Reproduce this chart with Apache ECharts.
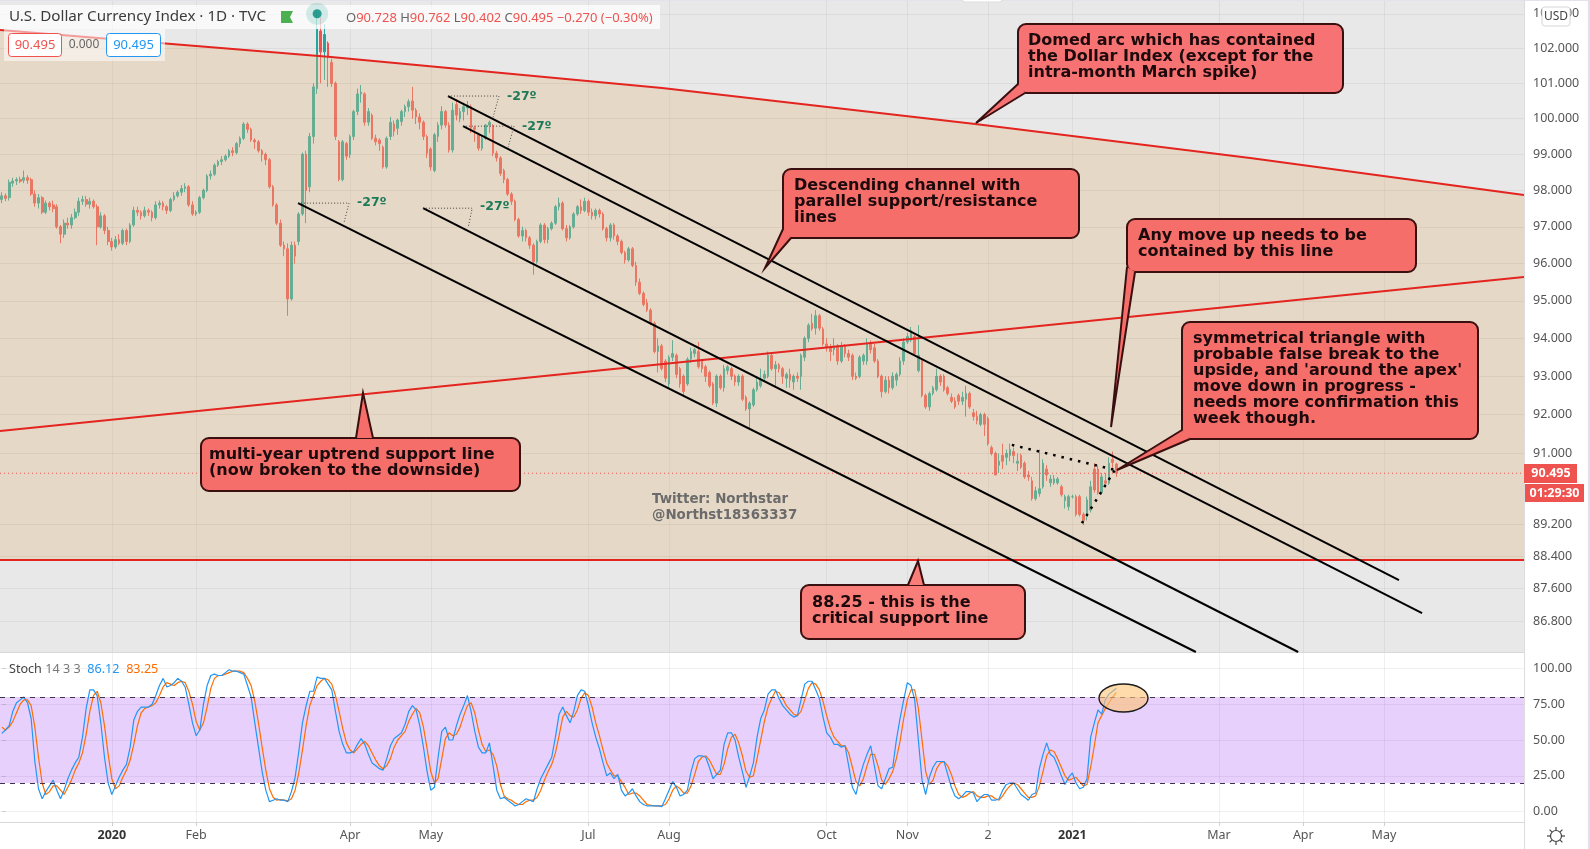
<!DOCTYPE html>
<html>
<head>
<meta charset="utf-8">
<title>U.S. Dollar Currency Index</title>
<script src="https://cdn.jsdelivr.net/npm/echarts@6/dist/echarts.min.js"></script>
<style>
  html, body { margin: 0; padding: 0; background: #fff; }
  #chart { width: 1590px; height: 849px; }
</style>
</head>
<body>
<div id="chart"></div>
<script>
// Daily candles. One bar per trading day from late Nov 2019.
const opens = [
  97.75,97.85,97.80,98.20,98.26,98.30,98.28,98.35,98.30,97.90,
  97.65,97.80,97.40,97.65,97.60,97.55,97.00,96.80,97.10,97.05,
  97.25,97.40,97.70,97.75,97.62,97.70,97.55,97.00,97.30,96.90,
  96.60,96.45,96.65,96.55,96.90,96.60,97.05,97.45,97.40,97.30,
  97.45,97.40,97.25,97.60,97.65,97.55,97.45,97.75,97.85,97.95,
  98.05,98.10,97.60,97.35,97.40,97.80,98.00,98.40,98.45,98.70,
  98.80,98.85,98.95,99.10,99.05,99.30,99.45,99.85,99.70,99.40,
  99.35,99.10,99.00,98.85,98.10,97.60,97.10,96.50,96.40,95.05,
  96.50,96.60,97.35,99.00,98.10,99.50,100.85,102.50,101.90,102.15,
  101.60,101.00,99.35,98.30,99.30,99.00,99.50,100.20,100.70,100.70,
  99.90,100.10,99.45,99.40,99.20,98.65,99.50,99.85,99.73,99.92,
  100.20,100.34,100.50,100.24,100.05,99.90,99.50,99.15,98.55,99.50,
  99.82,100.20,99.82,99.12,100.40,100.00,100.20,100.30,100.34,99.75,
  99.55,99.17,99.45,99.82,99.80,99.03,98.90,98.55,98.30,97.90,
  97.70,97.20,96.75,96.90,96.70,96.50,96.05,96.60,97.05,96.65,
  96.95,97.10,97.55,97.65,96.95,96.70,97.00,97.35,97.55,97.45,
  97.70,97.40,97.30,97.45,97.35,96.95,96.70,97.05,96.75,96.60,
  96.30,96.10,96.40,95.95,95.50,95.20,94.95,94.75,94.40,93.65,
  93.80,93.40,92.80,93.50,93.55,93.20,93.00,92.80,93.45,93.60,
  93.65,93.40,93.25,93.10,92.80,92.30,93.00,92.70,93.15,93.20,
  93.00,92.85,93.00,92.45,92.15,92.25,92.65,92.75,92.95,93.00,
  93.55,93.20,93.30,93.20,92.95,93.05,92.85,93.00,93.00,93.50,
  94.00,94.40,94.27,94.60,94.25,93.85,93.75,93.70,93.80,93.40,
  93.80,93.60,93.55,93.00,93.00,93.40,93.40,93.85,93.75,93.40,
  93.00,92.60,92.90,92.70,92.90,93.05,93.40,93.90,93.95,94.05,
  93.15,93.40,92.50,92.20,92.55,92.65,93.00,93.00,92.70,92.45,
  92.35,92.50,92.35,92.40,92.55,92.05,91.95,91.75,92.00,91.90,
  91.15,91.00,90.70,90.95,90.90,90.95,91.05,90.75,90.95,90.75,
  90.45,90.30,89.85,89.98,90.15,90.60,90.25,90.25,90.25,90.15,
  89.80,89.65,89.90,89.90,89.90,89.45,89.40,89.56,90.60,90.60,
  90.00,90.30,90.24,90.85,90.728
];
const closes = [
  97.85,97.78,98.22,98.26,98.30,98.25,98.35,98.28,97.90,97.65,
  97.80,97.40,97.65,97.55,97.50,97.00,96.80,97.10,97.05,97.25,
  97.40,97.70,97.75,97.62,97.70,97.55,97.00,97.30,96.90,96.60,
  96.45,96.65,96.55,96.90,96.60,97.05,97.45,97.40,97.30,97.45,
  97.40,97.25,97.60,97.65,97.55,97.45,97.75,97.85,97.95,98.05,
  98.10,97.60,97.35,97.40,97.80,98.00,98.40,98.45,98.70,98.80,
  98.85,98.95,99.10,99.05,99.30,99.45,99.85,99.70,99.40,99.35,
  99.10,99.00,98.85,98.10,97.60,97.10,96.50,96.40,95.05,96.50,
  96.20,97.35,99.00,98.00,99.50,100.90,102.55,101.90,102.40,101.75,
  101.00,99.50,98.30,99.35,98.95,99.50,100.20,100.70,100.75,99.90,
  100.20,99.45,99.35,99.30,98.65,99.45,99.90,99.65,99.96,100.20,
  100.34,100.48,100.24,100.05,99.90,99.50,99.03,98.65,99.55,99.82,
  100.20,99.82,99.12,100.24,100.10,100.20,100.34,100.38,99.73,99.70,
  99.17,99.45,99.82,99.90,99.03,98.90,98.47,98.30,97.90,97.70,
  97.20,96.75,96.90,96.70,96.50,96.05,96.60,97.05,96.65,96.95,
  97.10,97.55,97.65,96.95,96.70,97.00,97.35,97.55,97.45,97.70,
  97.40,97.30,97.45,97.35,96.95,96.70,97.05,96.75,96.60,96.30,
  96.10,96.40,95.95,95.50,95.20,94.90,94.75,94.40,93.65,93.80,
  93.20,92.95,93.50,93.60,93.05,92.80,92.60,93.45,93.65,93.70,
  93.25,93.20,93.00,92.75,92.30,93.00,92.70,93.20,93.25,93.00,
  92.85,93.00,92.40,92.15,92.30,92.65,92.85,92.90,93.05,93.55,
  93.20,93.30,93.20,93.00,93.05,92.90,93.00,92.95,93.55,94.00,
  94.35,94.25,94.60,94.27,93.85,93.75,93.65,93.80,93.40,93.80,
  93.60,93.50,93.00,92.95,93.50,93.55,93.85,93.70,93.40,93.00,
  92.60,92.90,92.70,93.00,93.05,93.40,93.90,94.05,94.20,93.60,
  93.55,92.50,92.20,92.55,92.70,93.00,92.85,92.65,92.55,92.35,
  92.20,92.35,92.45,92.55,92.20,91.95,91.85,92.00,91.75,91.25,
  91.00,90.45,90.80,90.80,91.00,91.10,90.95,90.80,90.65,90.40,
  90.40,89.85,90.05,90.10,90.75,90.45,90.35,90.35,90.35,89.95,
  89.90,89.90,89.90,89.45,89.45,89.30,89.82,90.15,90.07,90.00,
  90.40,90.24,90.75,90.77,90.495
];
const lows = [
  97.65,97.70,97.72,98.10,98.15,98.20,98.20,98.18,97.85,97.55,
  97.50,97.35,97.35,97.45,97.40,96.95,96.55,96.70,96.95,96.95,
  97.20,97.30,97.60,97.55,97.50,97.50,96.50,96.95,96.80,96.50,
  96.35,96.40,96.50,96.50,96.50,96.55,97.00,97.30,97.20,97.25,
  97.30,97.15,97.20,97.50,97.45,97.35,97.40,97.70,97.80,97.85,
  97.95,97.55,97.30,97.30,97.35,97.75,97.95,98.30,98.40,98.65,
  98.70,98.80,98.90,98.95,99.00,99.20,99.40,99.60,99.35,99.15,
  99.05,98.80,98.70,98.05,97.55,97.05,96.45,96.20,94.60,95.00,
  96.00,96.50,97.30,97.10,97.95,99.30,100.70,101.00,101.10,100.90,
  100.90,99.40,98.25,98.25,98.85,98.90,99.40,100.10,100.45,99.80,
  99.80,99.40,99.25,99.10,98.60,98.60,99.40,99.50,99.55,99.80,
  100.05,100.20,100.00,99.85,99.70,99.40,98.90,98.55,98.50,99.35,
  99.70,99.75,99.05,99.05,99.95,99.90,99.95,100.10,99.60,99.35,
  99.10,99.10,99.40,99.60,98.95,98.80,98.40,98.20,97.85,97.60,
  97.15,96.70,96.60,96.60,96.40,95.70,96.00,96.55,96.55,96.55,
  96.90,97.05,97.45,96.90,96.60,96.65,96.95,97.30,97.35,97.40,
  97.30,97.20,97.20,97.25,96.90,96.60,96.60,96.65,96.50,96.25,
  96.00,96.05,95.90,95.40,95.15,94.85,94.70,94.35,93.60,93.10,
  93.15,92.85,92.70,93.40,92.95,92.70,92.50,92.75,93.35,93.50,
  93.20,93.10,92.85,92.70,92.25,92.20,92.65,92.60,93.05,92.90,
  92.75,92.75,92.35,92.10,91.65,92.20,92.60,92.70,92.85,92.95,
  93.15,92.75,93.10,92.80,92.70,92.70,92.65,92.85,92.65,93.40,
  93.90,94.20,94.10,94.20,93.80,93.65,93.40,93.55,93.30,93.35,
  93.50,93.40,92.90,92.90,92.95,93.30,93.30,93.60,93.35,92.95,
  92.45,92.55,92.55,92.65,92.75,93.00,93.30,93.85,93.90,93.55,
  93.10,92.45,92.15,92.10,92.50,92.60,92.75,92.60,92.50,92.30,
  92.15,92.25,92.25,91.95,92.15,91.85,91.75,91.70,91.45,91.20,
  90.95,90.45,90.50,90.60,90.70,90.80,90.75,90.55,90.60,90.35,
  90.30,89.80,89.80,89.90,90.10,90.30,90.15,90.20,90.20,89.90,
  89.60,89.55,89.85,89.40,89.40,89.18,89.30,89.50,90.00,89.95,
  89.95,90.15,90.20,90.60,90.402
];
const highs = [
  97.95,97.92,98.30,98.35,98.36,98.38,98.55,98.42,98.35,98.00,
  97.90,97.85,97.72,97.70,97.72,97.62,97.05,97.20,97.25,97.35,
  97.50,97.80,97.85,97.85,97.80,97.75,97.62,97.40,97.35,97.00,
  96.70,96.75,96.80,96.95,96.95,97.10,97.55,97.55,97.45,97.55,
  97.50,97.45,97.70,97.72,97.70,97.60,97.80,97.95,98.00,98.15,
  98.20,98.15,97.70,97.45,97.85,98.05,98.45,98.55,98.75,98.85,
  98.95,99.00,99.15,99.20,99.35,99.50,99.90,99.90,99.75,99.45,
  99.40,99.15,99.05,98.90,98.15,97.65,97.20,96.60,96.55,96.60,
  96.60,97.40,99.05,99.10,99.60,101.00,103.10,102.90,102.70,102.20,
  101.70,101.05,99.40,99.40,99.35,99.55,100.25,100.85,100.95,100.75,
  100.30,100.15,99.55,99.45,99.25,99.50,100.05,99.95,100.00,100.25,
  100.40,100.55,100.90,100.30,100.15,99.95,99.55,99.20,99.60,99.90,
  100.35,100.25,99.90,100.45,100.55,100.30,100.45,100.50,100.40,99.80,
  99.60,99.50,99.85,99.95,99.85,99.10,98.95,98.60,98.35,97.95,
  97.75,97.25,97.00,96.95,96.75,96.55,96.65,97.10,97.10,97.00,
  97.15,97.60,97.80,97.70,97.05,97.05,97.40,97.60,97.75,97.80,
  97.75,97.50,97.50,97.50,97.40,97.00,97.10,97.10,96.80,96.65,
  96.35,96.45,96.45,96.05,95.60,95.25,95.05,94.80,94.45,94.00,
  93.85,93.45,93.55,93.95,93.60,93.25,93.05,93.50,93.75,93.75,
  93.90,93.45,93.30,93.15,92.85,93.05,93.05,93.30,93.30,93.25,
  93.05,93.05,93.05,92.50,92.35,92.70,92.95,93.20,93.15,93.65,
  93.60,93.40,93.35,93.25,93.10,93.20,93.05,93.10,93.60,94.05,
  94.40,94.65,94.75,94.65,94.30,94.00,93.85,94.00,93.85,93.90,
  93.85,93.70,93.60,93.10,93.55,93.60,94.00,93.95,93.85,93.45,
  93.05,93.00,93.00,93.10,93.10,93.50,94.00,94.15,94.30,94.10,
  94.35,93.45,92.55,92.60,92.75,93.20,93.05,93.05,92.75,92.55,
  92.45,92.55,92.60,92.75,92.60,92.15,92.10,92.05,92.05,91.95,
  91.20,91.05,91.00,91.25,91.10,91.25,91.15,91.00,91.00,90.80,
  90.55,90.40,90.15,91.10,90.85,90.70,90.45,90.45,90.40,90.20,
  89.95,89.95,89.95,89.95,89.95,89.50,89.90,90.30,90.75,90.70,
  90.50,90.50,90.90,91.05,90.762
];

// Stochastic %K and %D, one value per candle
const stochK = [
  54.6,57,60,70,76,78,80,76,65,35,
  16,9,14,18,22,15,9,15,23,29,
  34,38,52,72,85,85,81,62,38,20,
  12,18,24,29,33,45,64,70,73,73,
  73,75,81,88,93,87,88,90,93,91,
  87,75,62,53,57,75,88,95,96,95,
  95,97,99,98,98,97,96,88,80,62,
  45,28,15,7,8,9,8,8,7,14,
  24,42,62,74,84,84,94,93,93,89,
  85,70,56,47,41,41,42,47,51,47,
  40,34,32,30,29,37,46,51,53,55,
  61,70,74,71,60,45,28,15,17,38,
  56,59,50,50,60,68,74,81,70,56,
  45,41,41,48,32,15,9,10,8,6,
  4,5,7,9,8,7,16,23,28,33,
  38,52,68,73,67,62,70,81,85,84,
  74,62,52,44,34,25,27,23,26,15,
  11,13,16,11,7,5,4,4,4,4,
  3.5,9,15,21,17,11,12,15,28,37,
  39,39,38,31,23,26,29,47,55,55,
  50,38,28,17,25,34,52,65,71,82,
  85,85,79,74,71,68,66,67,78,89,
  91,91,85,79,66,55,52,47,47,45,
  46,32,17,12,24,33,40,46,32,18,
  16,23,30,31,50,65,78,90,88,78,
  50,22,12,24,31,35,35,35,26,17,
  11,9,11,14,14,13,7,10,12,12,
  8,8,9,15,19,20,20,16,12,10,
  8,12,13,30,40,48,40,38,32,25,
  19,24,27,20,16,17,23,52,62,71,
  68,78,82,84,86.12
];
const stochD = [
  59,57,59,63,69,75,78,78,74,59,
  38,20,12,14,18,18,15,12,17,22,
  29,34,41,54,70,81,84,76,60,40,
  23,16,18,24,29,36,47,60,69,72,
  73,74,76,81,87,90,89,88,90,91,
  90,84,75,63,57,62,73,86,93,95,
  95,96,97,98,98,98,97,93,88,77,
  62,45,29,16,10,8,8.5,8,7.5,9,
  15,27,43,60,74,81,88,91,93,92,
  89,81,70,58,48,43,41,44,47,49,
  46,41,36,32,30,32,37,45,50,53,
  56,63,68,72,69,59,44,28,20,23,
  37,51,55,53,54,59,67,74,76,69,
  57,47,42,43,40,32,19,11,9,8,
  6,5,5,7,8,8,10,15,22,28,
  33,41,53,66,70,67,66,71,79,83,
  81,73,62,53,43,34,29,25,25,21,
  17,12,13,13,11,8,5,4.5,4,4,
  4,5,9,15,18,16,13,13,18,26,
  35,38,39,36,31,26,26,33,44,52,
  54,48,39,28,24,25,37,50,63,73,
  79,84,83,79,74,71,68,67,70,78,
  86,90,89,85,77,67,58,52,49,46,
  46,41,31,21,18,23,32,40,40,32,
  22,19,23,28,37,49,65,78,85,85,
  72,50,28,19,22,30,34,35,32,26,
  18,12,10,11,13,14,11,10,10,11,
  11,9,8,11,15,18,20,19,16,13,
  10,10,11,18,28,39,43,42,37,31,
  25,22,23,24,21,18,19,31,46,62,
  67,72,76,80,83.25
];

// Axis ticks and labels
const timeTicks = [30, 53, 95, 117, 160, 182, 225, 247, 269, 292, 332, 355, 377];
const timeLabels = ['2020', 'Feb', 'Apr', 'May', 'Jul', 'Aug', 'Oct', 'Nov', '2', '2021', 'Mar', 'Apr', 'May'];
const priceTicks = [103, 102, 101, 100, 99, 98, 97, 96, 95, 94, 93, 92, 91, 89.2, 88.4, 87.6, 86.8];
const stochTicks = [0, 25, 50, 75, 100];
const stochBand = [20, 80];
const lastPrice = 90.495;

// Drawn lines as [bar index, price]
const xFirst = -0.5;
const xLast = 415.2;
const domedArc = [[xFirst, 102.53], [89.8, 101.75], [180.1, 100.87], [265.5, 99.85], [340.5, 98.9], [xLast, 97.87]];
const upTrend = [[xFirst, 91.58], [xLast, 95.64]];
const supportLine = [[xFirst, 88.31], [xLast, 88.31]];
const channelLines = [
  [[121.7, 100.64], [381.1, 87.81]],
  [[125.8, 99.79], [387.4, 87.0]],
  [[114.9, 97.51], [353.6, 86.05]],
  [[80.8, 97.65], [325.7, 86.05]]
];
const angleMarks = [
  [[80.8, 97.65], [94.7, 97.65], [93.3, 97.1]],
  [[114.9, 97.51], [128.3, 97.51], [127.2, 96.97]],
  [[121.7, 100.64], [135.6, 100.64], [134, 100.04]],
  [[125.8, 99.79], [139.7, 99.79], [138.1, 99.2]]
];
const triangleTop = [[275.5, 91.22], [303.6, 90.58]];
const triangleBottom = [[294.6, 89.23], [303.6, 90.58]];
const marker = [[86, 103.0]];

const candles = opens.map((o, i) => [i, o, closes[i], lows[i], highs[i]]);
const toLine = (values) => values.map((v, i) => [i, v]);

function plainLine(data, color, width, type) {
  return {
    type: 'line',
    data: data,
    symbol: 'none',
    silent: true,
    z: 5,
    lineStyle: { color: color, width: width, type: type || 'solid' }
  };
}

const uiFont = '"Noto Sans", sans-serif';
const noteFont = 'bold 16px "DejaVu Sans", sans-serif';

// A red note box with a tail, built from zrender shapes
function callout(x, y, w, h, fill, tail, lines, tx, ty) {
  const out = [];
  const stroke = '#3a0f10';
  out.push({ type: 'rect', z: 50, shape: { x: x, y: y, width: w, height: h, r: 8 }, style: { fill: fill, stroke: stroke, lineWidth: 2 } });
  // tail fill hides the box border at its base, then the two sides are stroked
  out.push({ type: 'polygon', z: 51, shape: { points: tail }, style: { fill: fill } });
  out.push({ type: 'polyline', z: 52, shape: { points: [tail[1], tail[0], tail[2]] }, style: { fill: 'none', stroke: stroke, lineWidth: 2 } });
  lines.forEach((line, i) => {
    out.push({
      type: 'text', z: 53, x: tx, y: ty + i * 16,
      style: { text: line, fill: '#1c0a0c', font: noteFont, textVerticalAlign: 'top' }
    });
  });
  return out;
}

function plainText(x, y, text, font, fill, align) {
  return {
    type: 'text', z: 60, x: x, y: y,
    style: { text: text, font: font, fill: fill, textAlign: align || 'left', textVerticalAlign: 'middle' }
  };
}

function gearRay(x1, y1, x2, y2) {
  return { type: 'line', z: 60, shape: { x1: x1, y1: y1, x2: x2, y2: y2 }, style: { stroke: '#444', lineWidth: 1.2 } };
}

const angleText = 'bold 12.5px "DejaVu Sans", sans-serif';
const legendRed = '#ef5350';

const graphics = [
  // legend strips
  { type: 'rect', z: 40, shape: { x: 0, y: 5, width: 660, height: 24 }, style: { fill: 'rgba(255,255,255,0.72)' } },
  { type: 'rect', z: 40, shape: { x: 4, y: 29, width: 161, height: 32 }, style: { fill: 'rgba(255,255,255,0.55)' } },
  plainText(9, 17, 'U.S. Dollar Currency Index · 1D · TVC', '15.2px ' + uiFont, '#3b3b3b'),
  { type: 'polygon', z: 60, shape: { points: [[281, 11], [293, 11], [290, 17], [293, 23], [281, 23]] }, style: { fill: '#4caf50' } },
  {
    type: 'text', z: 60, x: 346, y: 18,
    style: {
      text: '{g|O}{r|90.728} {g|H}{r|90.762} {g|L}{r|90.402} {g|C}{r|90.495} {r|−0.270 (−0.30%)}',
      textVerticalAlign: 'middle',
      rich: {
        g: { fill: '#666', font: '13px ' + uiFont },
        r: { fill: legendRed, font: '13px ' + uiFont }
      }
    }
  },
  { type: 'rect', z: 60, shape: { x: 8.5, y: 33.5, width: 53, height: 23, r: 3 }, style: { fill: '#fff', stroke: legendRed, lineWidth: 1 } },
  plainText(35, 45, '90.495', '13px ' + uiFont, legendRed, 'center'),
  plainText(84, 45, '0.000', '12px ' + uiFont, '#666', 'center'),
  { type: 'rect', z: 60, shape: { x: 106.5, y: 33.5, width: 54, height: 23, r: 3 }, style: { fill: '#fff', stroke: '#2196f3', lineWidth: 1 } },
  plainText(133.5, 45, '90.495', '13px ' + uiFont, '#2196f3', 'center'),

  // small tab and window edges
  { type: 'rect', z: 60, shape: { x: 962, y: -6, width: 40, height: 8, r: 3 }, style: { fill: '#fff', stroke: '#ddd', lineWidth: 1 } },
  { type: 'rect', z: 39, shape: { x: 0, y: 0, width: 1590, height: 1 }, style: { fill: '#e3e3ec' } },
  { type: 'rect', z: 39, shape: { x: 1588, y: 0, width: 2, height: 849 }, style: { fill: '#e0e0ea' } },
  { type: 'line', z: 39, shape: { x1: 1524.5, y1: 0, x2: 1524.5, y2: 849 }, style: { stroke: '#dcdcdc', lineWidth: 1 } },

  // price scale tags
  { type: 'rect', z: 60, shape: { x: 1542, y: 7, width: 28, height: 19, r: 3 }, style: { fill: '#fff', stroke: '#d6d6d6', lineWidth: 1 } },
  plainText(1556, 17, 'USD', '12px ' + uiFont, '#444', 'center'),
  { type: 'rect', z: 60, shape: { x: 1524, y: 464, width: 53, height: 19 }, style: { fill: legendRed } },
  plainText(1551, 473.5, '90.495', 'bold 12.5px ' + uiFont, '#fff', 'center'),
  { type: 'rect', z: 60, shape: { x: 1525, y: 484, width: 59, height: 18 }, style: { fill: legendRed } },
  plainText(1554.5, 493, '01:29:30', 'bold 12.5px ' + uiFont, '#fff', 'center'),

  // settings gear
  { type: 'circle', z: 60, shape: { cx: 1556, cy: 836, r: 5.5 }, style: { fill: 'none', stroke: '#444', lineWidth: 1.2 } },
  gearRay(1556, 827, 1556, 830), gearRay(1556, 842, 1556, 845),
  gearRay(1547, 836, 1550, 836), gearRay(1562, 836, 1565, 836),
  gearRay(1549.6, 829.6, 1551.8, 831.8), gearRay(1560.2, 840.2, 1562.4, 842.4),
  gearRay(1549.6, 842.4, 1551.8, 840.2), gearRay(1560.2, 831.8, 1562.4, 829.6),

  // stochastic legend
  {
    type: 'text', z: 60, x: 9, y: 669,
    style: {
      text: '{a|Stoch} {b|14 3 3}  {c|86.12}  {d|83.25}',
      textVerticalAlign: 'middle',
      rich: {
        a: { fill: '#444', font: '12.6px ' + uiFont },
        b: { fill: '#777', font: '12.6px ' + uiFont },
        c: { fill: '#2196f3', font: '12.6px ' + uiFont },
        d: { fill: '#ff6d00', font: '12.6px ' + uiFont }
      }
    }
  },

  // highlighted stochastic end
  { type: 'ellipse', z: 45, shape: { cx: 1123.5, cy: 698, rx: 24.5, ry: 14 }, style: { fill: 'rgba(255,196,120,0.62)', stroke: '#1c1c1c', lineWidth: 1.4 } },

  // angle labels
  plainText(357, 203, '-27º', angleText, '#1d7a58'),
  plainText(480, 207, '-27º', angleText, '#1d7a58'),
  plainText(507, 97, '-27º', angleText, '#1d7a58'),
  plainText(522, 127, '-27º', angleText, '#1d7a58'),

  // watermark
  plainText(652, 500, 'Twitter: Northstar', 'bold 13.4px "DejaVu Sans", sans-serif', '#6b6b6b'),
  plainText(652, 516, '@Northst18363337', 'bold 13.4px "DejaVu Sans", sans-serif', '#6b6b6b')
].concat(
  callout(1018, 24, 325, 69, '#f77272', [[976, 123], [1018, 84], [1025, 93]],
    ['Domed arc which has contained', 'the Dollar Index (except for the', 'intra-month March spike)'], 1028, 33),
  callout(783, 169, 296, 69, '#f66e69', [[765, 268], [783, 229], [791, 238]],
    ['Descending channel with', 'parallel support/resistance', 'lines'], 794, 178),
  callout(1127, 219, 289, 53, '#f66e69', [[1111, 427], [1127, 267], [1135, 272]],
    ['Any move up needs to be', 'contained by this line'], 1138, 228),
  callout(1182, 322, 296, 117, '#f66e69', [[1117, 470], [1182, 430], [1190, 439]],
    ['symmetrical triangle with', 'probable false break to the', "upside, and 'around the apex'", 'move down in progress -', 'needs more confirmation this', 'week though.'], 1193, 331),
  callout(201, 438, 319, 53, '#f66e69', [[363, 393], [356, 438], [373, 438]],
    ['multi-year uptrend support line', '(now broken to the downside)'], 209, 447),
  callout(801, 585, 224, 54, '#f97e79', [[918, 561], [908, 585], [924, 585]],
    ['88.25 - this is the', 'critical support line'], 812, 595)
);

const chart = echarts.init(document.getElementById('chart'));

chart.setOption({
  animation: false,
  backgroundColor: '#fff',
  grid: [
    { left: 0, top: 0, width: 1524, height: 652, show: true, backgroundColor: '#e8e8e8', borderWidth: 0 },
    { left: 0, top: 652, width: 1524, height: 170, show: true, backgroundColor: '#fff', borderWidth: 0 }
  ],
  xAxis: [
    {
      type: 'value', gridIndex: 0, min: xFirst, max: xLast,
      axisLine: { show: true, onZero: false, lineStyle: { color: '#d8d8d8' } },
      axisTick: { show: false, customValues: timeTicks },
      axisLabel: { show: false, customValues: timeTicks },
      splitLine: { show: true, lineStyle: { color: 'rgba(0,0,0,0.05)' } }
    },
    {
      type: 'value', gridIndex: 1, min: xFirst, max: xLast,
      axisLine: { show: true, onZero: false, lineStyle: { color: '#d8d8d8' } },
      axisTick: { show: true, length: 4, lineStyle: { color: '#d0d0d0' }, customValues: timeTicks },
      axisLabel: {
        show: true, margin: 7, customValues: timeTicks,
        fontFamily: uiFont, fontSize: 12.5, color: '#555',
        formatter: (v) => {
          const label = timeLabels[timeTicks.indexOf(v)];
          return label.length === 4 ? '{year|' + label + '}' : label;
        },
        rich: { year: { fontFamily: uiFont, fontSize: 12.5, fontWeight: 'bold', color: '#333' } }
      },
      splitLine: { show: true, lineStyle: { color: 'rgba(0,0,0,0.06)' } }
    }
  ],
  yAxis: [
    {
      type: 'log', gridIndex: 0, position: 'right', min: 86.05, max: 103.4,
      axisLine: { show: false }, axisTick: { show: false }, axisLabel: { show: false }, splitLine: { show: false }
    },
    {
      type: 'value', gridIndex: 1, position: 'right', min: -7.2, max: 111.4,
      axisLine: { show: false },
      axisTick: { show: true, length: 4, lineStyle: { color: '#d0d0d0' }, customValues: stochTicks },
      axisLabel: {
        show: true, margin: 9, customValues: stochTicks,
        fontFamily: uiFont, fontSize: 12.5, color: '#555',
        formatter: (v) => v.toFixed(2)
      },
      splitLine: { show: true, lineStyle: { color: 'rgba(0,0,0,0.06)' } }
    }
  ],
  series: [
    // price scale labels and grid lines
    {
      type: 'line', data: [[0, 90]], symbol: 'none', silent: true, z: 1,
      lineStyle: { opacity: 0 },
      markLine: {
        silent: true, symbol: ['none', 'none'], animation: false,
        lineStyle: { color: 'rgba(0,0,0,0.05)', width: 1, type: 'solid' },
        label: {
          show: true, position: 'end', distance: 9, color: '#555',
          fontFamily: uiFont, fontSize: 12.5,
          formatter: (p) => p.value.toFixed(3)
        },
        data: priceTicks.map((v) => ({ yAxis: v }))
      }
    },
    {
      type: 'candlestick',
      data: candles,
      encode: { x: 0, y: [1, 2, 3, 4] },
      barWidth: 2.2,
      z: 2,
      itemStyle: { color: '#26a69a', color0: '#ef5350', borderColor: '#26a69a', borderColor0: '#ef5350', borderWidth: 1 }
    },
    // tan zone between the arc and the support line, laid over the candles
    {
      type: 'custom', data: [[0, 90]], silent: true, z: 3,
      encode: { x: 0, y: 1 },
      renderItem: (params, api) => ({
        type: 'polygon',
        shape: { points: domedArc.concat(supportLine.slice().reverse()).map((p) => api.coord(p)) },
        style: { fill: 'rgba(226,186,135,0.35)' }
      })
    },
    plainLine(domedArc, '#e3241f', 2),
    plainLine(upTrend, '#e3241f', 2),
    plainLine(supportLine, '#e3241f', 2),
    plainLine([[xFirst, lastPrice], [xLast, lastPrice]], '#ef5350', 1, [1, 3])
  ].concat(
    channelLines.map((line) => plainLine(line, '#000', 2)),
    angleMarks.map((line) => Object.assign(plainLine(line, '#444', 1, [1, 2]), { smooth: 0.2 })),
    [
      plainLine(triangleTop, '#000', 2.5, [2.5, 6]),
      plainLine(triangleBottom, '#000', 2.5, [2.5, 6]),
      {
        type: 'scatter', data: marker, symbolSize: 22, silent: true, z: 41,
        itemStyle: { color: 'rgba(0,150,136,0.2)' }
      },
      {
        type: 'scatter', data: marker, symbolSize: 9, silent: true, z: 41,
        itemStyle: { color: '#00897b' }
      },
      {
        type: 'line', xAxisIndex: 1, yAxisIndex: 1, data: toLine(stochK), symbol: 'none', silent: true, z: 4,
        lineStyle: { color: '#2196f3', width: 1.2 },
        markArea: {
          silent: true,
          itemStyle: { color: 'rgba(150,40,240,0.22)' },
          data: [[{ yAxis: stochBand[1] }, { yAxis: stochBand[0] }]]
        },
        markLine: {
          silent: true, symbol: ['none', 'none'], animation: false,
          label: { show: false },
          lineStyle: { color: '#3d3350', width: 1, type: [5, 5] },
          data: stochBand.map((v) => ({ yAxis: v }))
        }
      },
      {
        type: 'line', xAxisIndex: 1, yAxisIndex: 1, data: toLine(stochD), symbol: 'none', silent: true, z: 3,
        lineStyle: { color: '#ff6d00', width: 1.2 }
      }
    ]
  ),
  graphic: { elements: graphics }
});

window.addEventListener('resize', () => {
  chart.resize();
});
</script>
</body>
</html>
